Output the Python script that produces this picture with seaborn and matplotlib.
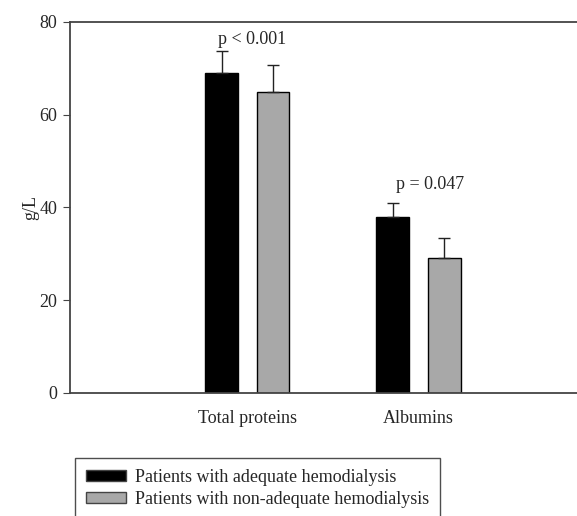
import pandas as pd
import numpy as np
import matplotlib
matplotlib.use('Agg')
import matplotlib.pyplot as plt
import seaborn as sns

# Values (g/L)
categories = ['Total proteins', 'Albumins']
groups = ['Patients with adequate hemodialysis', 'Patients with non-adequate hemodialysis']
adequate_mean = [69.0, 38.0]
adequate_err = [4.7, 3.0]
nonadequate_mean = [65.0, 29.0]
nonadequate_err = [5.8, 4.5]
p_labels = ['p < 0.001', 'p = 0.047']
p_x = [0.03, 1.065]
p_heights = [76.3, 45.0]

df = pd.DataFrame({
    'category': categories * 2,
    'group': [groups[0]] * 2 + [groups[1]] * 2,
    'value': adequate_mean + nonadequate_mean,
    'err': adequate_err + nonadequate_err,
})

sns.set_style('ticks')
plt.rcParams['font.family'] = ['Liberation Serif', 'DejaVu Serif']

fig = plt.figure(figsize=(5.77, 5.16), dpi=100)
ax = fig.add_axes([0.1213, 0.2384, 0.8787, 0.719])

sns.barplot(data=df, x='category', y='value', hue='group', order=categories,
            hue_order=groups, palette=['#000000', '#a8a8a8'], width=0.6, gap=0.36,
            edgecolor='black', linewidth=1, errorbar=None, ax=ax)

# Upper-only error bars placed on top of each drawn bar
for cont, grp in zip(ax.containers, groups):
    sub = df[df['group'] == grp].set_index('category').loc[categories]
    xs = [p.get_x() + p.get_width() / 2 for p in cont.patches]
    ax.errorbar(xs, sub['value'], yerr=[np.zeros(len(xs)), sub['err']],
                fmt='none', ecolor='#222222', elinewidth=1, capsize=4, capthick=1)

for x, lab, h in zip(p_x, p_labels, p_heights):
    ax.text(x, h, lab, ha='center', va='center', fontsize=13)

ax.set_xlim(-1.035, 1.925)
ax.set_ylim(0, 80)
ax.set_yticks([0, 20, 40, 60, 80])
ax.set_xlabel('')
ax.set_ylabel('g/L', fontsize=13, labelpad=0)
ax.tick_params(axis='x', length=0, labelsize=13, pad=12)
ax.tick_params(axis='y', length=5, labelsize=13, color='#444444', pad=4)
ax.spines['right'].set_visible(False)
for s in ['left', 'top', 'bottom']:
    ax.spines[s].set_color('#444444')
    ax.spines[s].set_linewidth(1.3)

ax.legend_.remove()
handles = [plt.Rectangle((0, 0), 1, 1, facecolor=c, edgecolor='#444444', linewidth=1)
           for c in ['#000000', '#a8a8a8']]
leg = fig.legend(handles, groups, loc='upper left', bbox_to_anchor=(0.13, 0.112),
                 frameon=True, fancybox=False, edgecolor='#222222', fontsize=13,
                 handlelength=2.2, handleheight=0.55, handletextpad=0.5,
                 borderpad=0.6, labelspacing=0.25, borderaxespad=0)
leg.get_frame().set_linewidth(1)

fig.savefig('out.png', dpi=100)
